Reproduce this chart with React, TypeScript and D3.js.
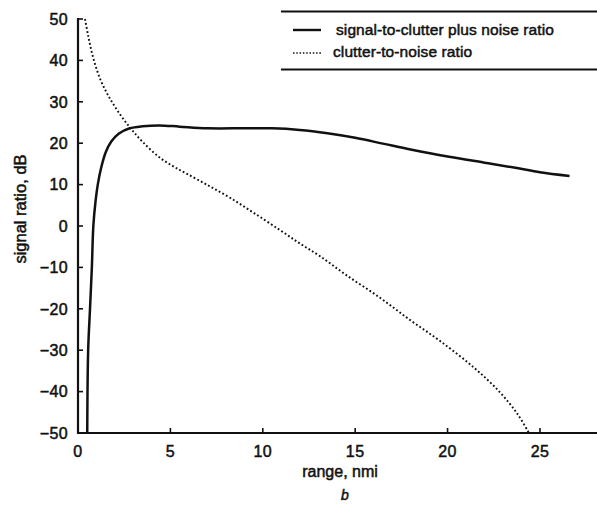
import { useEffect } from "react";
import * as d3 from "d3";

const W = 597;
const H = 508;

// signal-to-clutter plus noise ratio (solid)
const scnrRange = [0.5, 0.55, 0.65, 0.75, 0.83, 0.95, 1.07, 1.25, 1.5, 1.8, 2.2, 2.8, 3.5, 4.4, 5.5, 7, 9, 10.5, 12, 13.5, 15, 16.5, 18, 20, 22, 23.75, 25, 26.6];
const scnrDb = [-50, -30, -20, -10, 0, 6, 10, 14, 17.8, 20.4, 22.3, 23.6, 24.1, 24.3, 24.0, 23.6, 23.6, 23.6, 23.2, 22.4, 21.3, 19.9, 18.5, 16.8, 15.3, 14.0, 13.0, 12.1];

// clutter-to-noise ratio (dotted)
const cnrRange = [0.38, 0.55, 0.8, 1.2, 1.7, 2.3, 2.9, 3.5, 4.4, 5.2, 5.9, 7, 8.2, 9.5, 10.9, 12, 13.1, 14.5, 16.3, 18, 19.6, 21.4, 22.8, 23.8, 24.4];
const cnrDb = [50, 46, 41, 35.5, 31, 26.8, 23.3, 20.3, 16.6, 14.3, 12.6, 9.9, 6.9, 3.2, -0.9, -4.2, -7.3, -11.8, -17.2, -22.8, -27.8, -34.1, -40, -45.5, -50];

const xTicks = [0, 5, 10, 15, 20, 25];
const yTicks = [50, 40, 30, 20, 10, 0, -10, -20, -30, -40, -50];
const legendLabels = ["signal-to-clutter plus noise ratio", "clutter-to-noise ratio"];

const FONT = "'Liberation Sans', Arial, Helvetica, sans-serif";

function App() {
  useEffect(() => {
    document.body.style.margin = "0";
  }, []);

  const x = d3.scaleLinear().domain([0, 28]).range([78, 595.4]);
  const y = d3.scaleLinear().domain([-50, 50]).range([433, 19]);

  const line = d3
    .line<[number, number]>()
    .x((d) => x(d[0]))
    .y((d) => y(d[1]))
    .curve(d3.curveCatmullRom.alpha(0.5));

  const scnr = line(scnrRange.map((r, i) => [r, scnrDb[i]]) as [number, number][]);
  const cnr = line(cnrRange.map((r, i) => [r, cnrDb[i]]) as [number, number][]);

  const textStyle = { fontFamily: FONT, fill: "#111", stroke: "#111", strokeWidth: 0.5 };

  return (
    <svg width={W} height={H} style={{ position: "absolute", left: 0, top: 0, background: "#fff" }}>
      {/* curves */}
      <path d={cnr ?? ""} fill="none" stroke="#111" strokeWidth={1.9} strokeDasharray="1.8 2.3" />
      <path d={scnr ?? ""} fill="none" stroke="#111" strokeWidth={2.5} />

      {/* axes */}
      <line x1={x(0)} x2={x(0)} y1={y(50) - 1} y2={y(-50) + 1} stroke="#111" strokeWidth={2.2} />
      <line x1={x(0) - 1} x2={W} y1={y(-50)} y2={y(-50)} stroke="#111" strokeWidth={2.2} />
      {yTicks.map((t) => (
        <g key={"y" + t}>
          <line x1={x(0)} x2={x(0) + 5} y1={y(t)} y2={y(t)} stroke="#111" strokeWidth={1.6} />
          <text x={68} y={y(t)} dy="0.36em" textAnchor="end" fontSize={16} letterSpacing={0.4} style={textStyle}>
            {t < 0 ? "\u2212" + Math.abs(t) : t}
          </text>
        </g>
      ))}
      {xTicks.map((t) => (
        <g key={"x" + t}>
          <line x1={x(t)} x2={x(t)} y1={y(-50)} y2={y(-50) - 5} stroke="#111" strokeWidth={1.6} />
          <text x={x(t)} y={457} textAnchor="middle" fontSize={16} letterSpacing={0.4} style={textStyle}>
            {t}
          </text>
        </g>
      ))}

      {/* axis titles */}
      <text x={340} y={477} textAnchor="middle" fontSize={16} style={textStyle}>
        range, nmi
      </text>
      <text x={345} y={500} textAnchor="middle" fontSize={14} fontStyle="italic" style={textStyle}>
        b
      </text>
      <text transform="translate(26, 209) rotate(-90)" textAnchor="middle" fontSize={16.5} style={textStyle}>
        signal ratio, dB
      </text>

      {/* legend */}
      <line x1={281} x2={W} y1={11.5} y2={11.5} stroke="#111" strokeWidth={1.8} />
      <line x1={281} x2={W} y1={69.5} y2={69.5} stroke="#111" strokeWidth={1.8} />
      <line x1={293} x2={321} y1={30} y2={30} stroke="#111" strokeWidth={2.4} />
      <line x1={293} x2={321} y1={53} y2={53} stroke="#111" strokeWidth={1.5} strokeDasharray="1.5 1.8" />
      <text x={336} y={35} fontSize={15.5} letterSpacing={0.1} style={textStyle}>
        {legendLabels[0]}
      </text>
      <text x={333} y={57} fontSize={15.5} letterSpacing={0.1} style={textStyle}>
        {legendLabels[1]}
      </text>
    </svg>
  );
}

export default App;
